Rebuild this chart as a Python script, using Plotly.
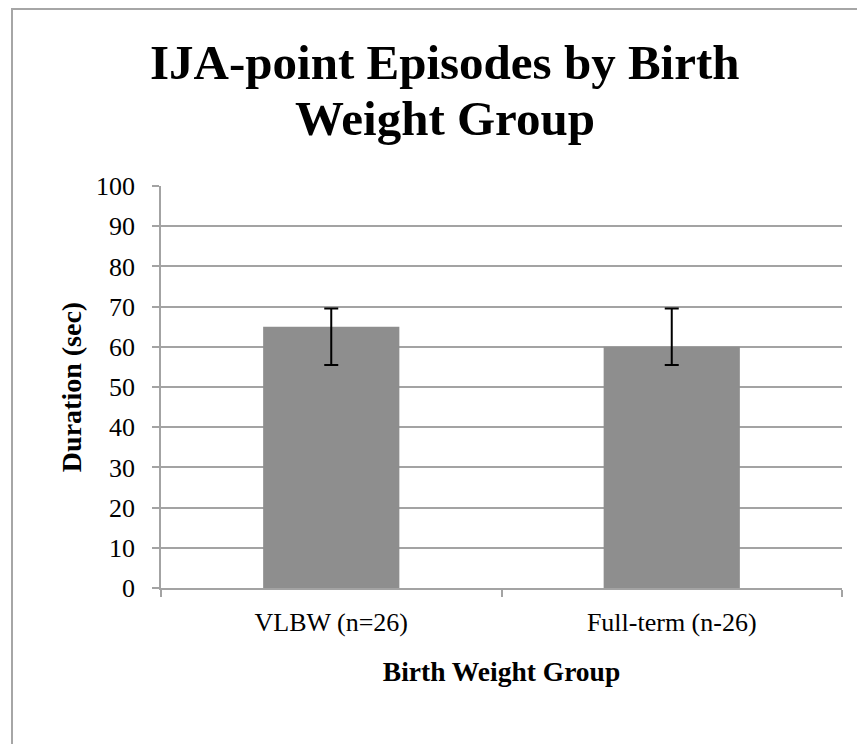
import plotly.graph_objects as go

# Birth weight groups and mean duration of IJA-point episodes (sec)
groups = ["VLBW (n=26)", "Full-term (n-26)"]
duration = [65, 60]
err_plus = [4.5, 9.5]
err_minus = [9.5, 4.5]
y_ticks = [0, 10, 20, 30, 40, 50, 60, 70, 80, 90, 100]
title_lines = ["IJA-point Episodes by Birth", "Weight Group"]

grid_gray = "#a3a3a3"
serif = "Liberation Serif, Times New Roman, serif"

fig = go.Figure()
fig.add_trace(go.Bar(
    x=groups,
    y=duration,
    marker=dict(color="#8e8e8e", line=dict(width=0)),
    error_y=dict(type="data", symmetric=False, array=err_plus, arrayminus=err_minus,
                 color="black", thickness=2, width=7),
))

# outer chart frame (top and left edges visible)
fig.add_shape(type="rect", xref="paper", yref="paper",
              x0=-0.2188, x1=1.2, y0=-0.6, y1=1.440,
              line=dict(color="#a6a6a6", width=2), layer="below")

# title drawn as two lines so the line spacing matches
for txt, ypos in zip(title_lines, [1.2337, 1.0945]):
    fig.add_annotation(text="<b>" + txt + "</b>", xref="paper", yref="paper",
                       x=0.417, y=ypos, xanchor="center", yanchor="bottom",
                       showarrow=False, font=dict(size=49, family=serif, color="black"))

fig.update_layout(
    width=857, height=736,
    paper_bgcolor="white", plot_bgcolor="white",
    margin=dict(l=153, r=23, t=178, b=156),
    bargap=0.6,
    showlegend=False,
    font=dict(family=serif, color="black"),
    xaxis=dict(
        title=dict(text="<b>Birth Weight Group</b>", font=dict(size=27.5), standoff=26),
        showline=True, linecolor=grid_gray, linewidth=1.5,
        ticks="outside", tickson="boundaries", ticklen=7, tickcolor=grid_gray, tickwidth=1.5,
        tickfont=dict(size=26), showgrid=False, automargin=False,
        ticklabelstandoff=10,
    ),
    yaxis=dict(
        title=dict(text="<b>Duration (sec)</b>", font=dict(size=28), standoff=6),
        range=[0, 100], tickvals=y_ticks,
        showline=True, linecolor=grid_gray, linewidth=1.5,
        ticks="outside", ticklen=7, tickcolor=grid_gray, tickwidth=1.5,
        showgrid=True, gridcolor=grid_gray, gridwidth=1.5,
        tickfont=dict(size=26), zeroline=False, automargin=False,
        ticklabelstandoff=12,
    ),
)

fig.write_html("out.html")
